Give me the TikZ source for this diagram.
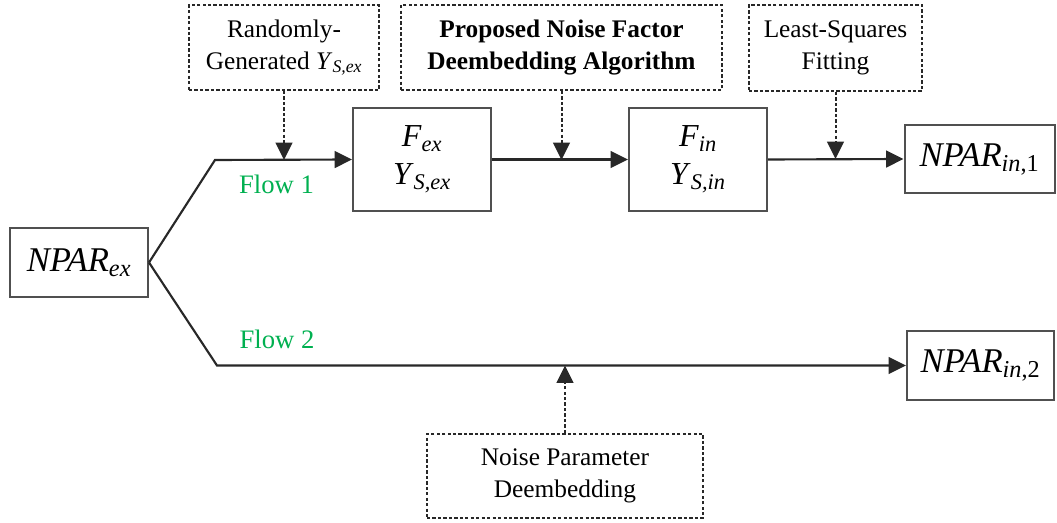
\documentclass[tikz,border=0pt]{standalone}
\usepackage{fontspec}
\setmainfont{Liberation Serif}
\usetikzlibrary{arrows.meta}

\definecolor{flowgreen}{RGB}{0,176,80}
\definecolor{linegray}{RGB}{40,40,40}
\definecolor{boxgray}{RGB}{80,80,80}
\newcommand{\isub}[2]{\textit{#1}\textsubscript{#2}}

\tikzset{
blockbox/.style={draw=boxgray, line width=1.5pt, align=center, inner sep=0pt},
notebox/.style={draw=linegray, line width=1.5pt, dash pattern=on 2.4pt off 1.7pt, align=center, inner sep=0pt, font=\fontsize{19}{24}\selectfont},
flowline/.style={draw=linegray, line width=1.6pt},
flowarrow/.style={flowline, -{Triangle[length=13pt,width=12.5pt]}},
notearrow/.style={draw=linegray, line width=1.5pt, dash pattern=on 2.4pt off 1.7pt, -{Triangle[length=13pt,width=12.5pt]}},
flowlabel/.style={text=flowgreen, font=\fontsize{20}{24}\selectfont}
}

\begin{document}
\begin{tikzpicture}[x=0.75pt,y=-0.75pt]
\useasboundingbox (0,0) rectangle (1057,523);

\node[blockbox, minimum width=103.5pt, minimum height=51.75pt, font=\fontsize{26}{30}\selectfont] (npex) at (79,262.5) {\isub{NPAR}{\textit{ex}}};
\node[blockbox, minimum width=103.5pt, minimum height=77.25pt, font=\fontsize{24}{28.5}\selectfont] (fex) at (422,159.5) {\isub{F}{\textit{ex}}\\\isub{Y}{\textit{S,ex}}};
\node[blockbox, minimum width=103.5pt, minimum height=77.25pt, font=\fontsize{24}{28.5}\selectfont] (fin) at (698,159.5) {\isub{F}{\textit{in}}\\\isub{Y}{\textit{S,in}}};
\node[blockbox, minimum width=112.5pt, minimum height=51pt, font=\fontsize{26}{30}\selectfont] (npin1) at (979.5,159) {\isub{NPAR}{\textit{in},1}};
\node[blockbox, minimum width=110.25pt, minimum height=51.75pt, font=\fontsize{26}{30}\selectfont] (npin2) at (980.5,365.5) {\isub{NPAR}{\textit{in},2}};

\node[notebox, minimum width=142.5pt, minimum height=63.75pt] (rand) at (284,47.5) {Randomly-\\Generated \isub{Y}{\textit{S,ex}}};
\node[notebox, minimum width=240.75pt, minimum height=63.75pt] (prop) at (561.5,47.5) {\textbf{Proposed Noise Factor}\\\textbf{Deembedding Algorithm}};
\node[notebox, minimum width=129.75pt, minimum height=64.5pt] (lsq) at (835.5,48) {Least-Squares\\Fitting};
\node[notebox, minimum width=207pt, minimum height=63pt] (npd) at (565,476) {Noise Parameter\\Deembedding};

\node[flowlabel] (flow1) at (276.5,184) {Flow 1};
\node[flowlabel] (flow2) at (277,339) {Flow 2};

\coordinate (up) at (215,160);
\coordinate (lo) at (217,365.5);
\coordinate (j1) at (284,160);
\coordinate (j2) at (561.5,160);
\coordinate (j3) at (835.5,159);
\coordinate (j4) at (565,365.5);

\draw[flowarrow] (npex.east) -- (up) -- (fex.west);
\draw[flowarrow] (fex.east) -- (fin.west);
\draw[flowarrow] (fin.east) -- (npin1.west);
\draw[flowarrow] (npex.east) -- (lo) -- (npin2.west);

\draw[notearrow] (rand.south) -- (j1);
\draw[notearrow] (prop.south) -- (j2);
\draw[notearrow] (lsq.south) -- (j3);
\draw[notearrow] (npd.north) -- (j4);
\end{tikzpicture}
\end{document}
